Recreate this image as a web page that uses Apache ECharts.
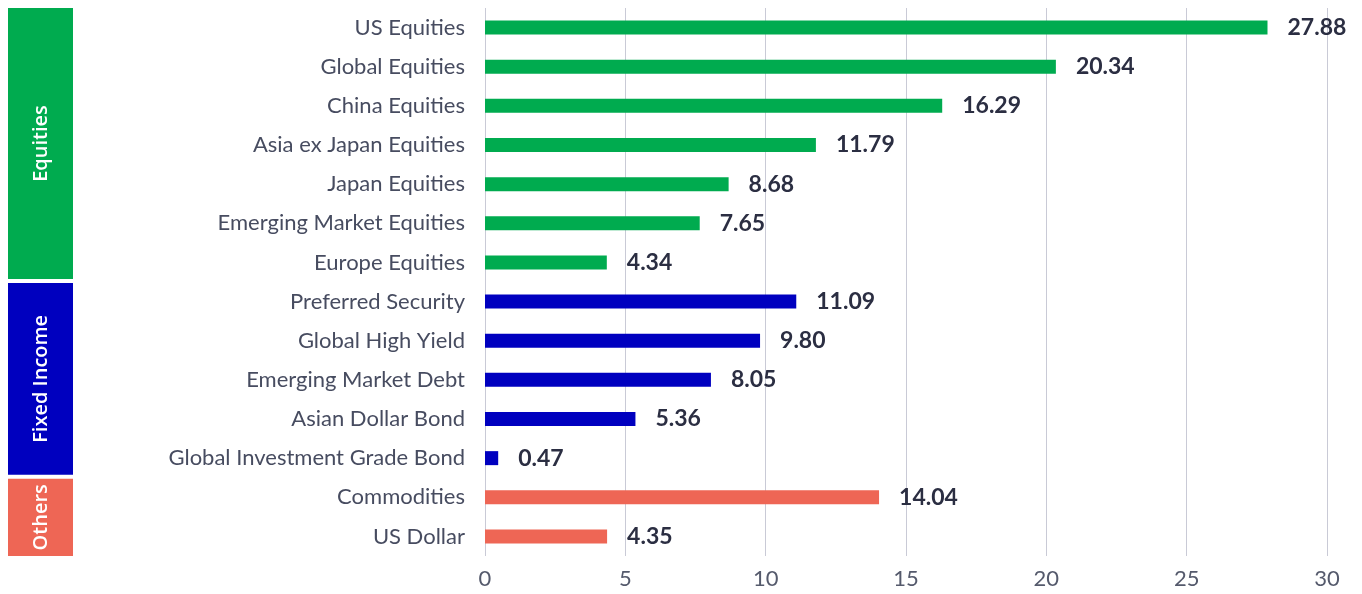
<!DOCTYPE html>
<html>
<head>
<meta charset="utf-8">
<script src="https://cdn.jsdelivr.net/npm/echarts@6/dist/echarts.min.js"></script>
<style>
  html, body { margin: 0; padding: 0; background: #fff; }
  #main { width: 1362px; height: 594px; }
</style>
</head>
<body>
<div id="main"></div>
<script>
const categories = [
  'US Equities', 'Global Equities', 'China Equities', 'Asia ex Japan Equities',
  'Japan Equities', 'Emerging Market Equities', 'Europe Equities',
  'Preferred Security', 'Global High Yield', 'Emerging Market Debt',
  'Asian Dollar Bond', 'Global Investment Grade Bond',
  'Commodities', 'US Dollar'
];
const values = [27.88, 20.34, 16.29, 11.79, 8.68, 7.65, 4.34, 11.09, 9.80, 8.05, 5.36, 0.47, 14.04, 4.35];
const groupNames = ['Equities', 'Fixed Income', 'Others'];
const groupSizes = [7, 5, 2];
const groupColors = ['#00ab4f', '#0000bf', '#ee6655'];
const xTicks = [0, 5, 10, 15, 20, 25, 30];

const FONT = 'Lato, "Noto Sans", sans-serif';

// colour of each bar comes from the group it belongs to
let barColors = [];
groupSizes.forEach((n, g) => {
  for (let i = 0; i < n; i++) barColors.push(groupColors[g]);
});

let chart = echarts.init(document.getElementById('main'));

let option = {
  animation: false,
  grid: { left: 485, right: 35, top: 8, bottom: 38 },
  xAxis: {
    type: 'value',
    min: xTicks[0],
    max: xTicks[xTicks.length - 1],
    interval: 5,
    axisLine: { show: false },
    axisTick: { show: false },
    splitLine: { show: true, lineStyle: { color: '#c9cad6', width: 1 } },
    axisLabel: { fontFamily: FONT, fontSize: 22, color: '#555a6c', margin: 12 }
  },
  yAxis: {
    type: 'category',
    inverse: true,
    data: categories,
    axisLine: { show: false },
    axisTick: { show: false },
    axisLabel: { fontFamily: FONT, fontSize: 22, color: '#474c60', margin: 20 }
  },
  series: [{
    type: 'bar',
    barWidth: 14,
    data: values.map((v, i) => ({ value: v, itemStyle: { color: barColors[i] } })),
    label: {
      show: true,
      position: 'right',
      distance: 20,
      formatter: p => p.value.toFixed(2),
      fontFamily: FONT,
      fontSize: 23,
      fontWeight: 'bold',
      color: '#2b2e42'
    }
  }]
};
chart.setOption(option);

// group boxes on the left, aligned to the category bands
function drawGroups() {
  let p0 = chart.convertToPixel({ yAxisIndex: 0 }, categories[0]);
  let p1 = chart.convertToPixel({ yAxisIndex: 0 }, categories[1]);
  let band = p1 - p0;
  let elements = [];
  let start = 0;
  groupSizes.forEach((n, g) => {
    let top = chart.convertToPixel({ yAxisIndex: 0 }, categories[start]) - band / 2;
    let bottom = chart.convertToPixel({ yAxisIndex: 0 }, categories[start + n - 1]) + band / 2;
    top += g === 0 ? 0 : 1;
    bottom -= g === groupSizes.length - 1 ? 0 : 3;
    elements.push({
      type: 'rect',
      shape: { x: 8, y: top, width: 65, height: bottom - top },
      style: { fill: groupColors[g] }
    });
    elements.push({
      type: 'text',
      x: 41,
      y: (top + bottom) / 2,
      rotation: Math.PI / 2,
      style: {
        text: groupNames[g],
        fill: '#ffffff',
        fontFamily: '"Open Sans", "Noto Sans", sans-serif',
        fontSize: 20,
        fontWeight: 600,
        align: 'center',
        verticalAlign: 'middle'
      }
    });
    start += n;
  });
  chart.setOption({ graphic: elements });
}
drawGroups();

window.onresize = function () {
  chart.resize();
  drawGroups();
};
</script>
</body>
</html>
